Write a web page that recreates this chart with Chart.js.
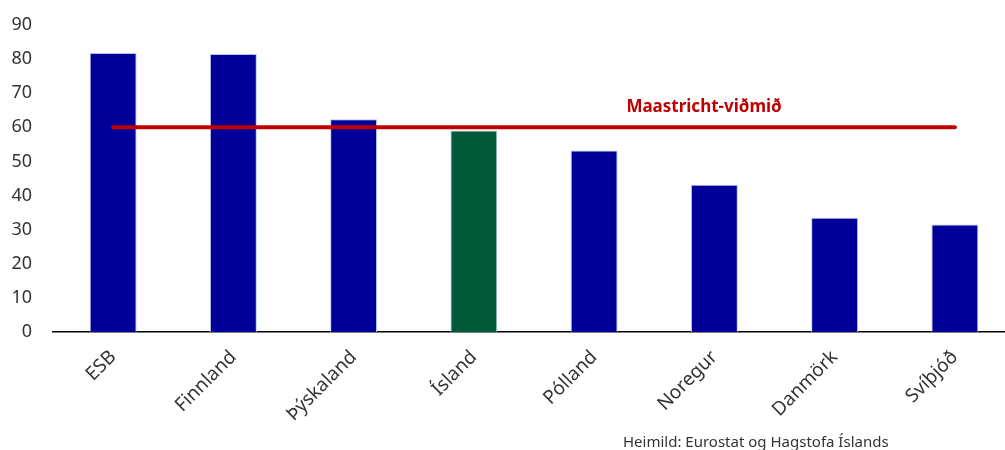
<!DOCTYPE html>
<html>
<head>
<meta charset="utf-8">
<script src="https://cdn.jsdelivr.net/npm/chart.js@4/dist/chart.umd.min.js"></script>
<style>
  html, body { margin: 0; padding: 0; background: #fff; overflow: hidden; }
  #wrap { position: relative; width: 1015px; height: 450px; }
</style>
</head>
<body>
<div id="wrap"><canvas id="debtChart"></canvas></div>
<script>
// gögn lesin af myndinni
const countries = ['ESB', 'Finnland', 'Þýskaland', 'Ísland', 'Pólland', 'Noregur', 'Danmörk', 'Svíþjóð'];
const debtValues = [81.8, 81.5, 62.4, 59.1, 53.2, 43.2, 33.5, 31.5];
const criterion = [60, 60, 60, 60, 60, 60, 60, 60];
const yTicks = [0, 10, 20, 30, 40, 50, 60, 70, 80, 90];
const criterionLabel = 'Maastricht-viðmið';
const sourceNote = 'Heimild: Eurostat og Hagstofa Íslands';

const FONT = "'Noto Sans', sans-serif";
const barColors = countries.map(c => c === 'Ísland' ? '#005a3a' : '#000099');

// texti: viðmiðslína og heimild
const notesPlugin = {
    id: 'notes',
    afterDraw(chart) {
        const c = chart.ctx;
        const x = chart.scales.x, y = chart.scales.y;
        c.save();
        c.font = 'bold 17px ' + FONT;
        c.fillStyle = '#c00000';
        c.textBaseline = 'alphabetic';
        c.textAlign = 'left';
        c.fillText(criterionLabel, x.getPixelForValue(5) - 88, y.getPixelForValue(60) - 15);
        c.font = '15px ' + FONT;
        c.fillStyle = '#333';
        c.fillText(sourceNote, 623, 447);
        c.restore();
    }
};

new Chart(document.getElementById('debtChart'), {
    data: {
        labels: countries,
        datasets: [
            {
                type: 'line',
                data: criterion,
                borderColor: '#c00000',
                borderWidth: 4,
                borderCapStyle: 'round',
                pointRadius: 0,
                order: 0
            },
            {
                type: 'bar',
                data: debtValues,
                backgroundColor: barColors,
                borderColor: '#b4c4ee',
                borderWidth: 1,
                barPercentage: 0.39,
                categoryPercentage: 1,
                order: 1
            }
        ]
    },
    options: {
        responsive: true,
        maintainAspectRatio: false,
        animation: false,
        layout: { padding: { top: 25, right: 0, left: 0, bottom: 0 } },
        plugins: { legend: { display: false }, tooltip: { enabled: false } },
        scales: {
            x: {
                grid: { display: false, drawTicks: false },
                border: { color: '#000', width: 1.5 },
                ticks: {
                    color: '#333',
                    font: { family: FONT, size: 19 },
                    minRotation: 45,
                    maxRotation: 45,
                    padding: 14
                },
                afterFit(scale) { scale.height = 118; }
            },
            y: {
                min: 0,
                max: 90,
                grid: { display: false, drawTicks: false },
                border: { display: false },
                afterBuildTicks(scale) { scale.ticks = yTicks.map(v => ({ value: v })); },
                ticks: {
                    color: '#333',
                    font: { family: FONT, size: 18 },
                    padding: 21
                },
                afterFit(scale) {
                    scale.width = 53;
                    scale.paddingTop = 0;
                    scale.paddingBottom = 0;
                }
            }
        }
    },
    plugins: [notesPlugin]
});
</script>
</body>
</html>
